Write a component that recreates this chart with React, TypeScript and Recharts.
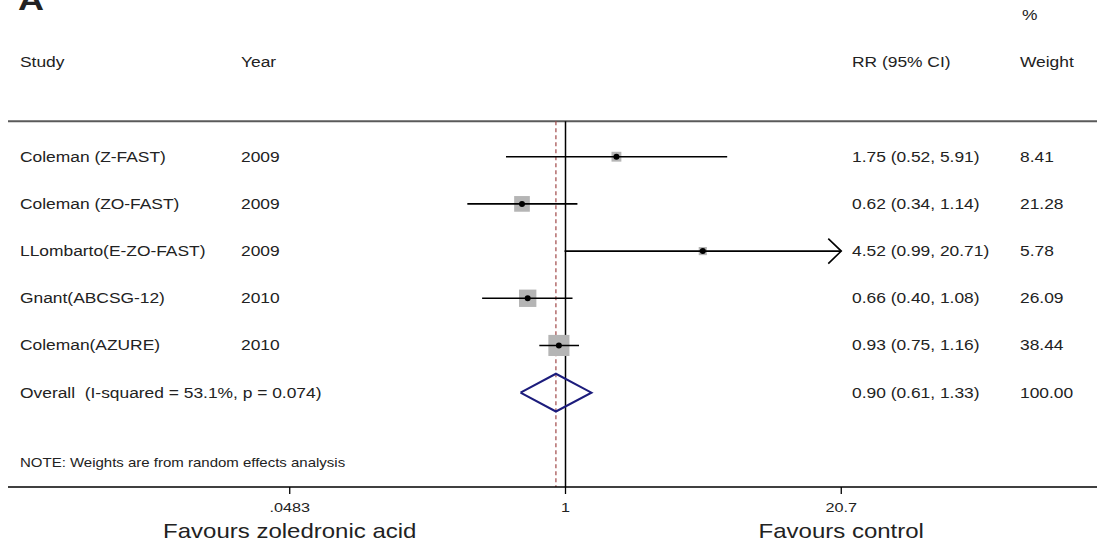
import { ScatterChart, Scatter, XAxis, YAxis, ReferenceLine } from "recharts"

const studies = ["Coleman (Z-FAST)", "Coleman (ZO-FAST)", "LLombarto(E-ZO-FAST)", "Gnant(ABCSG-12)", "Coleman(AZURE)"]
const years = ["2009", "2009", "2009", "2010", "2010"]
const rr = [1.75, 0.62, 4.52, 0.66, 0.93]
const lower = [0.52, 0.34, 0.99, 0.4, 0.75]
const upper = [5.91, 1.14, 20.71, 1.08, 1.16]
const weights = [8.41, 21.28, 5.78, 26.09, 38.44]

const overallLabel = "Overall  (I-squared = 53.1%, p = 0.074)"
const overallRR = 0.9
const overallLower = 0.61
const overallUpper = 1.33
const overallWeight = "100.00"

const note = "NOTE: Weights are from random effects analysis"
const xTicks = [0.0483, 1, 20.7]
const xTickLabels = [".0483", "1", "20.7"]
const favourLabels = ["Favours zoledronic acid", "", "Favours control"]

const FONT = "'Liberation Sans', Arial, sans-serif"
const INK = "#222"
const clipMax = xTicks[xTicks.length - 1]
const overallRow = studies.length
const noteRow = 6.5
const diamondHalf = 0.4

const fmt = (v: number) => v.toFixed(2)

function Txt({ x, y, size = 14.5, anchor = "start", bold = false, baseline = "central", children }: any) {
  return (
    <text
      transform={`translate(${x},${y}) scale(1.2,1)`}
      fontSize={size}
      fontFamily={FONT}
      fontWeight={bold ? "bold" : "normal"}
      fill={INK}
      textAnchor={anchor}
      dominantBaseline={baseline}
      style={{ whiteSpace: "pre" }}
    >
      {children}
    </text>
  )
}

// table text on the left / right of the plot, one tick per row
function RowTick(props: any) {
  const { y, payload } = props
  const v = payload.value
  if (v === -3) {
    return (
      <g>
        <Txt x={18} y={y - 5} size={30} bold baseline="alphabetic">A</Txt>
        <Txt x={1022} y={y}>%</Txt>
      </g>
    )
  }
  if (v === -2) {
    return (
      <g>
        <Txt x={20} y={y}>Study</Txt>
        <Txt x={241} y={y}>Year</Txt>
        <Txt x={852} y={y}>RR (95% CI)</Txt>
        <Txt x={1020} y={y}>Weight</Txt>
      </g>
    )
  }
  if (v === overallRow) {
    return (
      <g>
        <Txt x={20} y={y}>{overallLabel}</Txt>
        <Txt x={852} y={y}>{`${fmt(overallRR)} (${fmt(overallLower)}, ${fmt(overallUpper)})`}</Txt>
        <Txt x={1020} y={y}>{overallWeight}</Txt>
      </g>
    )
  }
  if (v === noteRow) {
    return <Txt x={20} y={y} size={12.5}>{note}</Txt>
  }
  const i = v as number
  return (
    <g>
      <Txt x={20} y={y}>{studies[i]}</Txt>
      <Txt x={241} y={y}>{years[i]}</Txt>
      <Txt x={852} y={y}>{`${fmt(rr[i])} (${fmt(lower[i])}, ${fmt(upper[i])})`}</Txt>
      <Txt x={1020} y={y}>{fmt(weights[i])}</Txt>
    </g>
  )
}

function XTick(props: any) {
  const { x, y, index } = props
  return (
    <g>
      <Txt x={x} y={y + 11} size={13.5} anchor="middle">{xTickLabels[index]}</Txt>
      <Txt x={x} y={y + 35} size={20} anchor="middle">{favourLabels[index]}</Txt>
    </g>
  )
}

const markerData = rr.map((v, i) => ({ x: v, y: i, w: weights[i] }))

const ciData = rr.map((_, i) => [
  { x: lower[i], y: i, arrow: false },
  { x: Math.min(upper[i], clipMax), y: i, arrow: upper[i] > clipMax },
])

const diamondData = [
  { x: overallLower, y: overallRow },
  { x: overallRR, y: overallRow - diamondHalf },
  { x: overallUpper, y: overallRow },
  { x: overallRR, y: overallRow + diamondHalf },
  { x: overallLower, y: overallRow },
]

const Square = (p: any) => {
  const s = 3.4 * Math.sqrt(p.payload.w)
  return <rect x={p.cx - s / 2} y={p.cy - s / 2} width={s} height={s} fill="#b5b5b5" />
}
const Dot = (p: any) => <circle cx={p.cx} cy={p.cy} r={3} fill="#000" />
const Arrow = (p: any) =>
  p.payload.arrow ? (
    <polyline
      points={`${p.cx - 13},${p.cy - 12.5} ${p.cx},${p.cy} ${p.cx - 13},${p.cy + 12.5}`}
      fill="none"
      stroke="#000"
      strokeWidth={1.6}
    />
  ) : (
    <g />
  )
const Nothing = () => <g />

export default function App() {
  return (
    <div style={{ position: "absolute", left: 0, top: 0, width: 1097, height: 547, background: "#fff" }}>
      <ScatterChart width={1097} height={547} margin={{ top: 1, right: 0, bottom: 0, left: 6 }}>
        <XAxis
          dataKey="x"
          type="number"
          scale="log"
          domain={[0.002185, 343.9]}
          allowDataOverflow
          ticks={xTicks}
          interval={0}
          tick={<XTick />}
          tickSize={7}
          tickLine={{ stroke: "#000", strokeWidth: 1.3 }}
          axisLine={{ stroke: "#000", strokeWidth: 1.5 }}
          height={60}
        />
        <YAxis
          dataKey="y"
          type="number"
          domain={[-3.3, 7]}
          allowDataOverflow
          reversed
          ticks={[-3, -2, 0, 1, 2, 3, 4, 5, noteRow]}
          interval={0}
          width={2}
          axisLine={false}
          tickLine={false}
          tick={<RowTick />}
        />
        <ReferenceLine y={-0.75} stroke="#5a5a5a" strokeWidth={2} />
        <ReferenceLine
          segment={[{ x: overallRR, y: -0.75 }, { x: overallRR, y: 7 }]}
          stroke="#a04848"
          strokeWidth={1.2}
          strokeDasharray="4 3"
        />
        <ReferenceLine segment={[{ x: 1, y: -0.75 }, { x: 1, y: 7 }]} stroke="#000" strokeWidth={1.5} />
        <Scatter data={markerData} shape={Square} isAnimationActive={false} />
        {ciData.map((d, i) => (
          <Scatter
            key={i}
            data={d}
            line={{ stroke: "#000", strokeWidth: 1.6 }}
            shape={Arrow}
            isAnimationActive={false}
          />
        ))}
        <Scatter data={markerData} shape={Dot} isAnimationActive={false} />
        <Scatter
          data={diamondData}
          line={{ stroke: "#1c1c7c", strokeWidth: 2 }}
          shape={Nothing}
          isAnimationActive={false}
        />
      </ScatterChart>
    </div>
  )
}
